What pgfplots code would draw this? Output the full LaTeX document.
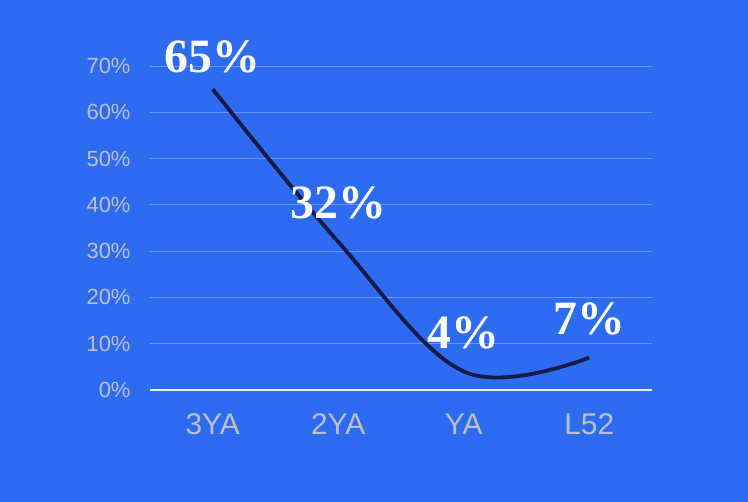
\documentclass[border=0pt]{standalone}
\usepackage{pgfplots}
\pgfplotsset{compat=1.18}
\usepackage{fontspec}
\setmainfont{Liberation Sans}
\newfontfamily\labfont{Liberation Serif}
\definecolor{bg}{RGB}{45,108,240}
\definecolor{gridc}{RGB}{105,150,246}
\definecolor{tickc}{RGB}{188,192,204}
\definecolor{linec}{RGB}{24,26,72}
\begin{document}
\begin{tikzpicture}[x=1bp,y=1bp]
\path[use as bounding box, fill=bg] (0,0) rectangle (748,502);
\begin{axis}[
  at={(150bp,112bp)}, anchor=south west,
  scale only axis, width=502bp, height=324bp,
  xmin=-0.5, xmax=3.5, ymin=0, ymax=70,
  axis line style={draw=none},
  tick style={draw=none},
  clip=false,
  ytick={0,10,...,70},
  xtick={0,1,2,3},
  xticklabels={3YA,2YA,YA,L52},
  yticklabel={\pgfmathprintnumber{\tick}\%},
  /pgf/number format/assume math mode=true,
  ticklabel style={text=tickc},
  yticklabel style={font=\fontsize{22}{24}\selectfont, xshift=-16bp},
  xticklabel style={font=\fontsize{30}{32}\selectfont, yshift=-20bp},
  ymajorgrids, major grid style={gridc, line width=0.8bp},
  major tick length=0pt,
]
\addplot[linec, line width=3.8bp, smooth, tension=0.6] coordinates {(0,65) (1,32) (2,4) (3,7)};
\draw[white!88!bg, line width=1.6bp] (axis cs:-0.5,0) -- (axis cs:3.5,0);
\addplot[only marks, mark=none, nodes near coords, point meta=explicit symbolic,
  nodes near coords style={font=\labfont\bfseries\fontsize{48}{50}\selectfont, text=white, anchor=center, yshift=32bp}]
  coordinates {(0,65)[65\%]};
\addplot[only marks, mark=none, nodes near coords, point meta=explicit symbolic,
  nodes near coords style={font=\labfont\bfseries\fontsize{48}{50}\selectfont, text=white, anchor=center, yshift=39bp}]
  coordinates {(1,32)[32\%] (2,4)[4\%] (3,7)[7\%]};
\end{axis}
\end{tikzpicture}
\end{document}
